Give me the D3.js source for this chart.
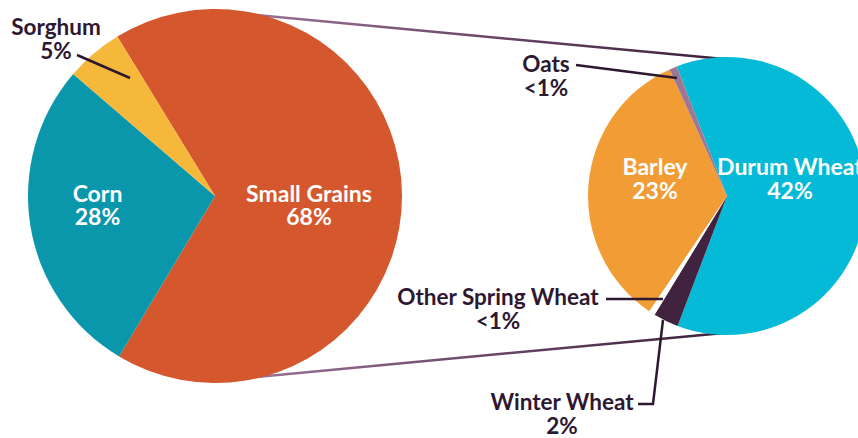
<!DOCTYPE html>
<html>
<head>
<meta charset="utf-8">
<script src="https://cdn.jsdelivr.net/npm/d3@7"></script>
<style>
  body { margin: 0; background: #fff; }
  svg { display: block; font-family: Lato, "Open Sans", sans-serif; }
</style>
</head>
<body>
<div id="chart"></div>
<script>
// main pie: share of crop acreage
var mainNames = ["Small Grains", "Corn", "Sorghum"];
var mainValues = [68, 28, 5];
var mainLabels = ["68%", "28%", "5%"];
var mainColors = ["#d5572d", "#0a97ab", "#f5b83b"];

// breakdown of small grains
var subNames = ["Durum Wheat", "Winter Wheat", "Other Spring Wheat", "Barley", "Oats"];
var subValues = [42, 2, 0.5, 23, 0.6];
var subLabels = ["42%", "2%", "<1%", "23%", "<1%"];
var subColors = ["#05bad6", "#42233f", "#ffffff", "#f29c35", "#9d7894"];

var w = 858, h = 438;
var dark = "#2e1731";
var deg = Math.PI / 180;

var svg = d3.select("#chart")
      .append("svg")
      .attr("width", w)
      .attr("height", h);

var c1 = {x: 215, y: 196, r: 187};
var c2 = {x: 727, y: 196, r: 139};

// connector lines (just inside the external tangents), behind the pies
var grad = svg.append("defs").append("linearGradient")
      .attr("id", "conn")
      .attr("gradientUnits", "userSpaceOnUse")
      .attr("x1", 240).attr("x2", 720).attr("y1", 0).attr("y2", 0);
grad.append("stop").attr("offset", "0%").attr("stop-color", "#9c7398");
grad.append("stop").attr("offset", "100%").attr("stop-color", "#3c1f3b");

var d = c2.x - c1.x;
var a = Math.asin((c1.r - c2.r) / d);
var inset = 3;
[-1, 1].forEach(function(s) {
  var nx = Math.sin(a), ny = s * Math.cos(a);
  svg.append("line")
     .attr("x1", c1.x + (c1.r - inset) * nx).attr("y1", c1.y + (c1.r - inset) * ny)
     .attr("x2", c2.x + (c2.r - inset) * nx).attr("y2", c2.y + (c2.r - inset) * ny)
     .attr("stroke", "url(#conn)")
     .attr("stroke-width", 2.5);
});

function drawPie(values, colors, c, start) {
  var pie = d3.pie().sort(null)
        .startAngle(start * deg)
        .endAngle(start * deg + 2 * Math.PI);
  var arc = d3.arc().innerRadius(0).outerRadius(c.r);
  var g = svg.append("g").attr("transform", "translate(" + c.x + "," + c.y + ")");
  g.selectAll("path")
   .data(pie(values))
   .enter()
   .append("path")
   .attr("d", arc)
   .attr("fill", function(d, i) { return colors[i]; });
}

drawPie(mainValues, mainColors, c1, -31.5);
drawPie(subValues, subColors, c2, -21.2);

// label anchor points (center x, first baseline)
var mainPos = [[309, 201.5], [97.5, 201.5], [56, 35]];
var mainFill = ["#fff", "#fff", dark];
var subPos = [[790, 175], [562, 410], [498, 305], [655, 175], [546, 72]];
var subFill = ["#fff", dark, dark, "#fff", dark];

function labels(names, vals, pos, fills) {
  names.forEach(function(n, i) {
    var t = svg.append("text")
          .attr("text-anchor", "middle")
          .attr("font-size", fills[i] === dark ? "22.5px" : "23px")
          .attr("font-weight", "bold")
          .attr("fill", fills[i]);
    t.append("tspan").attr("x", pos[i][0]).attr("y", pos[i][1]).text(n);
    t.append("tspan").attr("x", pos[i][0]).attr("y", pos[i][1] + 23.5).text(vals[i]);
  });
}
labels(mainNames, mainLabels, mainPos, mainFill);
labels(subNames, subLabels, subPos, subFill);

// leader lines
var leaders = [
  [[77, 55], [130, 78]],
  [[576, 65], [677, 78]],
  [[606, 299], [663, 299]],
  [[638, 404], [653, 404], [663, 320]]
];
svg.selectAll("path.leader")
   .data(leaders)
   .enter()
   .append("path")
   .attr("class", "leader")
   .attr("d", d3.line())
   .attr("fill", "none")
   .attr("stroke", dark)
   .attr("stroke-width", 2.5);
</script>
</body>
</html>
